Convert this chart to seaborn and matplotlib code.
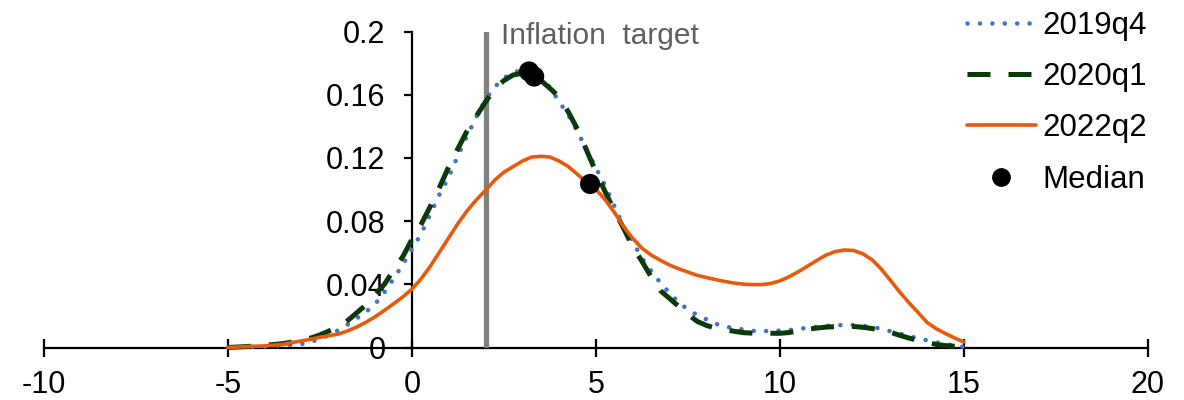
import numpy as np
import pandas as pd
import matplotlib
matplotlib.use("Agg")
import matplotlib.pyplot as plt
from matplotlib.lines import Line2D
import seaborn as sns

# ---------------- data ----------------
x_grid = [-5, -4.75, -4.5, -4.25, -4, -3.75, -3.5, -3.25, -3, -2.75, -2.5, -2.25, -2, -1.75,
          -1.5, -1.25, -1, -0.75, -0.5, -0.25, 0, 0.25, 0.5, 0.75, 1, 1.25, 1.5, 1.75, 2,
          2.25, 2.5, 2.75, 3, 3.25, 3.5, 3.75, 4, 4.25, 4.5, 4.75, 5, 5.25, 5.5, 5.75, 6,
          6.25, 6.5, 6.75, 7, 7.25, 7.5, 7.75, 8, 8.25, 8.5, 8.75, 9, 9.25, 9.5, 9.75, 10,
          10.25, 10.5, 10.75, 11, 11.25, 11.5, 11.75, 12, 12.25, 12.5, 12.75, 13, 13.25,
          13.5, 13.75, 14, 14.25, 14.5, 14.75, 15]

q2019q4 = [0.0000, 0.0002, 0.0004, 0.0005, 0.0006, 0.0010, 0.0013, 0.0017, 0.0022, 0.0035,
           0.0055, 0.0078, 0.0110, 0.0145, 0.0185, 0.0225, 0.0275, 0.0350, 0.0435, 0.0525,
           0.0622, 0.0720, 0.0845, 0.0970, 0.1080, 0.1215, 0.1340, 0.1460, 0.1570, 0.1650,
           0.1705, 0.1742, 0.1755, 0.1745, 0.1710, 0.1645, 0.1555, 0.1470, 0.1365, 0.1250,
           0.1135, 0.1025, 0.0895, 0.0765, 0.0670, 0.0565, 0.0485, 0.0410, 0.0345, 0.0285,
           0.0240, 0.0205, 0.0178, 0.0150, 0.0133, 0.0122, 0.0114, 0.0105, 0.0104, 0.0105,
           0.0107, 0.0110, 0.0117, 0.0125, 0.0131, 0.0136, 0.0140, 0.0143, 0.0142, 0.0137,
           0.0130, 0.0118, 0.0103, 0.0088, 0.0073, 0.0058, 0.0045, 0.0033, 0.0022, 0.0012,
           0.0004]

q2020q1 = [0.0000, 0.0003, 0.0006, 0.0010, 0.0014, 0.0019, 0.0025, 0.0035, 0.0048, 0.0060,
           0.0080, 0.0105, 0.0130, 0.0170, 0.0220, 0.0270, 0.0335, 0.0400, 0.0490, 0.0575,
           0.0685, 0.0780, 0.0895, 0.1015, 0.1145, 0.1260, 0.1372, 0.1465, 0.1555, 0.1640,
           0.1690, 0.1725, 0.1735, 0.1720, 0.1690, 0.1640, 0.1585, 0.1490, 0.1380, 0.1245,
           0.1110, 0.0985, 0.0865, 0.0755, 0.0635, 0.0545, 0.0447, 0.0360, 0.0310, 0.0260,
           0.0210, 0.0165, 0.0140, 0.0122, 0.0112, 0.0103, 0.0094, 0.0091, 0.0090, 0.0090,
           0.0090, 0.0095, 0.0105, 0.0115, 0.0123, 0.0129, 0.0132, 0.0134, 0.0133, 0.0128,
           0.0120, 0.0110, 0.0097, 0.0077, 0.0060, 0.0045, 0.0033, 0.0019, 0.0012, 0.0008,
           0.0005]

q2022q2 = [0.0000, 0.0003, 0.0006, 0.0008, 0.0010, 0.0015, 0.0020, 0.0032, 0.0042, 0.0052,
           0.0065, 0.0075, 0.0085, 0.0105, 0.0130, 0.0160, 0.0195, 0.0235, 0.0277, 0.0320,
           0.0370, 0.0435, 0.0515, 0.0605, 0.0695, 0.0785, 0.0866, 0.0935, 0.0995, 0.1060,
           0.1110, 0.1145, 0.1180, 0.1205, 0.1210, 0.1205, 0.1180, 0.1145, 0.1095, 0.1045,
           0.1000, 0.0935, 0.0855, 0.0765, 0.0690, 0.0628, 0.0585, 0.0552, 0.0522, 0.0498,
           0.0477, 0.0457, 0.0443, 0.0430, 0.0418, 0.0408, 0.0401, 0.0398, 0.0398, 0.0405,
           0.0422, 0.0448, 0.0480, 0.0515, 0.0551, 0.0585, 0.0607, 0.0617, 0.0614, 0.0593,
           0.0556, 0.0497, 0.0425, 0.0352, 0.0285, 0.0222, 0.0158, 0.0118, 0.0088, 0.0060,
           0.0035]

median_x = [3.18, 3.32, 4.84]
median_y = [0.1747, 0.1715, 0.1035]

series_names = ["2019q4", "2020q1", "2022q2"]
inflation_target = 2
target_label = "Inflation  target"

x_ticks = [-10, -5, 0, 5, 10, 15, 20]
y_ticks = [0, 0.04, 0.08, 0.12, 0.16, 0.2]
y_tick_labels = ["0", "0.04", "0.08", "0.12", "0.16", "0.2"]

# ---------------- style ----------------
sns.set_theme(style="white")
plt.rcParams["font.family"] = ["Liberation Sans", "DejaVu Sans"]
plt.rcParams["text.color"] = "black"

BLUE = "#4472C4"
GREEN = "#0A3A0A"
ORANGE = "#E8590C"
GRAY = "#808080"

fig = plt.figure(figsize=(11.84, 4.0), dpi=100)
ax = fig.add_axes([44 / 1184, 1 - 347.5 / 400, 1104 / 1184, 316 / 400])

df = pd.DataFrame({"x": x_grid, "2019q4": q2019q4, "2020q1": q2020q1, "2022q2": q2022q2})

sns.lineplot(data=df, x="x", y="2019q4", ax=ax, color=BLUE, lw=3.3,
             zorder=3, clip_on=False)
l_blue = ax.lines[-1]
l_blue.set_dashes((0.01, 2.7))
l_blue.set_dash_capstyle("round")

sns.lineplot(data=df, x="x", y="2020q1", ax=ax, color=GREEN, lw=3.6,
             zorder=4, clip_on=False)
l_green = ax.lines[-1]
l_green.set_dashes((4.6, 3.6))

sns.lineplot(data=df, x="x", y="2022q2", ax=ax, color=ORANGE, lw=2.6,
             zorder=5, clip_on=False)

sns.scatterplot(x=median_x, y=median_y, ax=ax, color="black", s=210,
                edgecolor="none", zorder=6, clip_on=False)

ax.axvline(inflation_target, ymin=0, ymax=1, color=GRAY, lw=3.8, zorder=2)
ax.text(2.42, 0.1924, target_label, color="#5F5F5F", fontsize=21.5,
        ha="left", va="baseline")

ax.set_xlim(-10, 20)
ax.set_ylim(0, 0.2)
ax.set_xticks(x_ticks)
ax.set_xticklabels([str(t) for t in x_ticks])
ax.set_yticks(y_ticks)
ax.set_yticklabels(y_tick_labels)
ax.set_xlabel("")
ax.set_ylabel("")

for side in ["top", "right"]:
    ax.spines[side].set_visible(False)
ax.spines["left"].set_position(("data", 0))
ax.spines["bottom"].set_position(("data", 0))
for side in ["left", "bottom"]:
    ax.spines[side].set_color("black")
    ax.spines[side].set_linewidth(1.6)
    ax.spines[side].set_zorder(1)

ax.tick_params(axis="x", direction="inout", length=13, width=1.6, colors="black",
               labelsize=22, pad=10, bottom=True)
ax.tick_params(axis="y", direction="out", length=6, width=1.6, colors="black",
               labelsize=22, pad=13, left=True)
ax.patch.set_alpha(0)
ax.grid(False)

handles = [
    Line2D([], [], color=BLUE, lw=3.3, dashes=(0.01, 2.7), dash_capstyle="round"),
    Line2D([], [], color=GREEN, lw=3.6, dashes=(4.6, 3.6)),
    Line2D([], [], color=ORANGE, lw=2.6),
    Line2D([], [], color="black", lw=0, marker="o", markersize=12.5),
]
fig.legend(handles, series_names + ["Median"], loc="upper left",
           bbox_to_anchor=(967 / 1184, 0.973), frameon=False, fontsize=22.5,
           handlelength=2.2, handletextpad=0.22, labelspacing=0.68,
           borderpad=0, borderaxespad=0, labelcolor="black")

fig.savefig("out.png", dpi=100, facecolor="white")
